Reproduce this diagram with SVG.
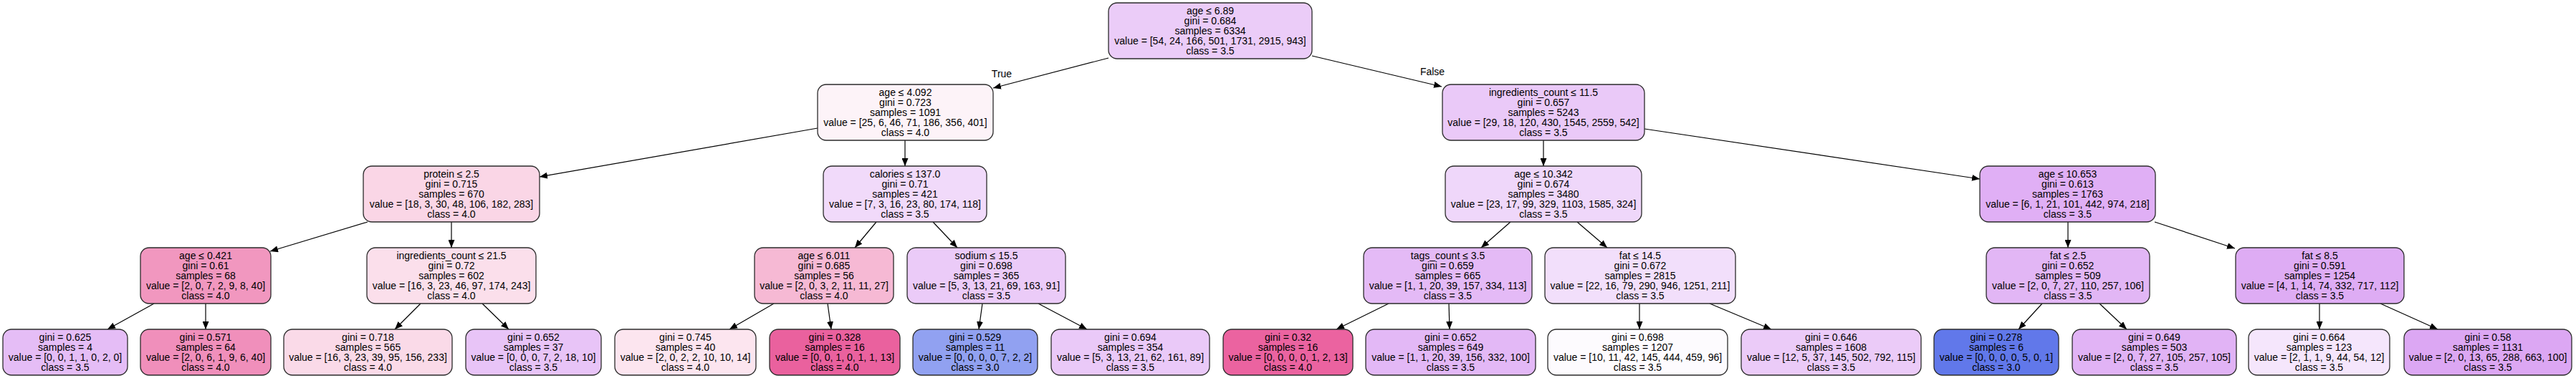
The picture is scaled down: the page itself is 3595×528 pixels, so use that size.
<svg xmlns="http://www.w3.org/2000/svg" width="3595" height="528" viewBox="0 0 3595 528">
<style>
.box{stroke:#2b2b2b;stroke-width:1.3}
text{font-family:"Liberation Sans",Helvetica,Arial,sans-serif;font-size:14px;fill:#000;text-anchor:middle}
.edge{stroke:#000;stroke-width:1.2;fill:none;marker-end:url(#ah)}
</style>
<defs>
<marker id="ah" markerWidth="12" markerHeight="9" refX="11" refY="4.5" orient="auto" markerUnits="userSpaceOnUse"><path d="M0,0 L11,4.5 L0,9 z" fill="#000"/></marker>
</defs>
<rect width="3595" height="528" fill="#fff"/>
<g id="connectors">
<line class="edge" x1="1547" y1="81" x2="1386" y2="123"/>
<line class="edge" x1="1831" y1="78" x2="2012" y2="121"/>
<line class="edge" x1="1141" y1="179" x2="753" y2="247"/>
<line class="edge" x1="1263" y1="196" x2="1263" y2="232"/>
<line class="edge" x1="2154" y1="196" x2="2154" y2="232"/>
<line class="edge" x1="2295" y1="180" x2="2763" y2="250"/>
<line class="edge" x1="513" y1="310" x2="377" y2="351"/>
<line class="edge" x1="630" y1="310" x2="630" y2="346"/>
<line class="edge" x1="1223" y1="310" x2="1193" y2="346"/>
<line class="edge" x1="1302" y1="310" x2="1336" y2="346"/>
<line class="edge" x1="2108" y1="310" x2="2067" y2="346"/>
<line class="edge" x1="2201" y1="310" x2="2243" y2="346"/>
<line class="edge" x1="2886" y1="310" x2="2886" y2="346"/>
<line class="edge" x1="3007" y1="310" x2="3119" y2="347"/>
<line class="edge" x1="215" y1="424" x2="150" y2="460"/>
<line class="edge" x1="287" y1="424" x2="287" y2="460"/>
<line class="edge" x1="587" y1="424" x2="551" y2="460"/>
<line class="edge" x1="673" y1="424" x2="710" y2="460"/>
<line class="edge" x1="1080" y1="424" x2="1018" y2="460"/>
<line class="edge" x1="1155" y1="424" x2="1160" y2="460"/>
<line class="edge" x1="1371" y1="424" x2="1366" y2="460"/>
<line class="edge" x1="1449" y1="424" x2="1517" y2="460"/>
<line class="edge" x1="1938" y1="424" x2="1865" y2="460"/>
<line class="edge" x1="2022" y1="424" x2="2023" y2="460"/>
<line class="edge" x1="2288" y1="424" x2="2288" y2="460"/>
<line class="edge" x1="2386" y1="424" x2="2472" y2="460"/>
<line class="edge" x1="2850" y1="424" x2="2817" y2="460"/>
<line class="edge" x1="2930" y1="424" x2="2968" y2="460"/>
<line class="edge" x1="3237" y1="424" x2="3237" y2="460"/>
<line class="edge" x1="3322" y1="424" x2="3402" y2="460"/>
<text x="1398" y="108">True</text>
<text x="1999" y="105">False</text>
</g>
<g id="n0"><rect class="box" x="1547" y="4" width="284" height="78" rx="12" fill="#ebccf8"/><text x="1689" y="20"><tspan x="1689">age ≤ 6.89</tspan><tspan x="1689" dy="14">gini = 0.684</tspan><tspan x="1689" dy="14">samples = 6334</tspan><tspan x="1689" dy="14">value = [54, 24, 166, 501, 1731, 2915, 943]</tspan><tspan x="1689" dy="14">class = 3.5</tspan></text></g>
<g id="n1"><rect class="box" x="1141" y="118" width="245" height="78" rx="12" fill="#fdf3f8"/><text x="1263.5" y="134"><tspan x="1263.5">age ≤ 4.092</tspan><tspan x="1263.5" dy="14">gini = 0.723</tspan><tspan x="1263.5" dy="14">samples = 1091</tspan><tspan x="1263.5" dy="14">value = [25, 6, 46, 71, 186, 356, 401]</tspan><tspan x="1263.5" dy="14">class = 4.0</tspan></text></g>
<g id="n2"><rect class="box" x="2013" y="118" width="282" height="78" rx="12" fill="#eac9f8"/><text x="2154" y="134"><tspan x="2154">ingredients_count ≤ 11.5</tspan><tspan x="2154" dy="14">gini = 0.657</tspan><tspan x="2154" dy="14">samples = 5243</tspan><tspan x="2154" dy="14">value = [29, 18, 120, 430, 1545, 2559, 542]</tspan><tspan x="2154" dy="14">class = 3.5</tspan></text></g>
<g id="n3"><rect class="box" x="507" y="232" width="246" height="78" rx="12" fill="#fad6e6"/><text x="630" y="248"><tspan x="630">protein ≤ 2.5</tspan><tspan x="630" dy="14">gini = 0.715</tspan><tspan x="630" dy="14">samples = 670</tspan><tspan x="630" dy="14">value = [18, 3, 30, 48, 106, 182, 283]</tspan><tspan x="630" dy="14">class = 4.0</tspan></text></g>
<g id="n4"><rect class="box" x="1149" y="232" width="228" height="78" rx="12" fill="#f1dafa"/><text x="1263" y="248"><tspan x="1263">calories ≤ 137.0</tspan><tspan x="1263" dy="14">gini = 0.71</tspan><tspan x="1263" dy="14">samples = 421</tspan><tspan x="1263" dy="14">value = [7, 3, 16, 23, 80, 174, 118]</tspan><tspan x="1263" dy="14">class = 3.5</tspan></text></g>
<g id="n5"><rect class="box" x="2017" y="232" width="274" height="78" rx="12" fill="#efd7fa"/><text x="2154" y="248"><tspan x="2154">age ≤ 10.342</tspan><tspan x="2154" dy="14">gini = 0.674</tspan><tspan x="2154" dy="14">samples = 3480</tspan><tspan x="2154" dy="14">value = [23, 17, 99, 329, 1103, 1585, 324]</tspan><tspan x="2154" dy="14">class = 3.5</tspan></text></g>
<g id="n6"><rect class="box" x="2763" y="232" width="245" height="78" rx="12" fill="#e0aff5"/><text x="2885.5" y="248"><tspan x="2885.5">age ≤ 10.653</tspan><tspan x="2885.5" dy="14">gini = 0.613</tspan><tspan x="2885.5" dy="14">samples = 1763</tspan><tspan x="2885.5" dy="14">value = [6, 1, 21, 101, 442, 974, 218]</tspan><tspan x="2885.5" dy="14">class = 3.5</tspan></text></g>
<g id="n7"><rect class="box" x="196" y="346" width="182" height="78" rx="12" fill="#f197bf"/><text x="287" y="362"><tspan x="287">age ≤ 0.421</tspan><tspan x="287" dy="14">gini = 0.61</tspan><tspan x="287" dy="14">samples = 68</tspan><tspan x="287" dy="14">value = [2, 0, 7, 2, 9, 8, 40]</tspan><tspan x="287" dy="14">class = 4.0</tspan></text></g>
<g id="n8"><rect class="box" x="512" y="346" width="236" height="78" rx="12" fill="#fbdfeb"/><text x="630" y="362"><tspan x="630">ingredients_count ≤ 21.5</tspan><tspan x="630" dy="14">gini = 0.72</tspan><tspan x="630" dy="14">samples = 602</tspan><tspan x="630" dy="14">value = [16, 3, 23, 46, 97, 174, 243]</tspan><tspan x="630" dy="14">class = 4.0</tspan></text></g>
<g id="n9"><rect class="box" x="1053" y="346" width="194" height="78" rx="12" fill="#f6b9d4"/><text x="1150" y="362"><tspan x="1150">age ≤ 6.011</tspan><tspan x="1150" dy="14">gini = 0.685</tspan><tspan x="1150" dy="14">samples = 56</tspan><tspan x="1150" dy="14">value = [2, 0, 3, 2, 11, 11, 27]</tspan><tspan x="1150" dy="14">class = 4.0</tspan></text></g>
<g id="n10"><rect class="box" x="1266" y="346" width="221" height="78" rx="12" fill="#ebcbf8"/><text x="1376.5" y="362"><tspan x="1376.5">sodium ≤ 15.5</tspan><tspan x="1376.5" dy="14">gini = 0.698</tspan><tspan x="1376.5" dy="14">samples = 365</tspan><tspan x="1376.5" dy="14">value = [5, 3, 13, 21, 69, 163, 91]</tspan><tspan x="1376.5" dy="14">class = 3.5</tspan></text></g>
<g id="n11"><rect class="box" x="1903" y="346" width="235" height="78" rx="12" fill="#e4baf6"/><text x="2020.5" y="362"><tspan x="2020.5">tags_count ≤ 3.5</tspan><tspan x="2020.5" dy="14">gini = 0.659</tspan><tspan x="2020.5" dy="14">samples = 665</tspan><tspan x="2020.5" dy="14">value = [1, 1, 20, 39, 157, 334, 113]</tspan><tspan x="2020.5" dy="14">class = 3.5</tspan></text></g>
<g id="n12"><rect class="box" x="2156" y="346" width="266" height="78" rx="12" fill="#f2dffb"/><text x="2289" y="362"><tspan x="2289">fat ≤ 14.5</tspan><tspan x="2289" dy="14">gini = 0.672</tspan><tspan x="2289" dy="14">samples = 2815</tspan><tspan x="2289" dy="14">value = [22, 16, 79, 290, 946, 1251, 211]</tspan><tspan x="2289" dy="14">class = 3.5</tspan></text></g>
<g id="n13"><rect class="box" x="2772" y="346" width="228" height="78" rx="12" fill="#e2b6f5"/><text x="2886" y="362"><tspan x="2886">fat ≤ 2.5</tspan><tspan x="2886" dy="14">gini = 0.652</tspan><tspan x="2886" dy="14">samples = 509</tspan><tspan x="2886" dy="14">value = [2, 0, 7, 27, 110, 257, 106]</tspan><tspan x="2886" dy="14">class = 3.5</tspan></text></g>
<g id="n14"><rect class="box" x="3120" y="346" width="235" height="78" rx="12" fill="#deacf4"/><text x="3237.5" y="362"><tspan x="3237.5">fat ≤ 8.5</tspan><tspan x="3237.5" dy="14">gini = 0.591</tspan><tspan x="3237.5" dy="14">samples = 1254</tspan><tspan x="3237.5" dy="14">value = [4, 1, 14, 74, 332, 717, 112]</tspan><tspan x="3237.5" dy="14">class = 3.5</tspan></text></g>
<g id="leaf1"><rect class="box" x="4" y="460" width="174" height="64" rx="12" fill="#e5bdf6"/><text x="91" y="476"><tspan x="91">gini = 0.625</tspan><tspan x="91" dy="14">samples = 4</tspan><tspan x="91" dy="14">value = [0, 0, 1, 1, 0, 2, 0]</tspan><tspan x="91" dy="14">class = 3.5</tspan></text></g>
<g id="leaf2"><rect class="box" x="196" y="460" width="182" height="64" rx="12" fill="#f08fbb"/><text x="287" y="476"><tspan x="287">gini = 0.571</tspan><tspan x="287" dy="14">samples = 64</tspan><tspan x="287" dy="14">value = [2, 0, 6, 1, 9, 6, 40]</tspan><tspan x="287" dy="14">class = 4.0</tspan></text></g>
<g id="leaf3"><rect class="box" x="396" y="460" width="235" height="64" rx="12" fill="#fadae8"/><text x="513.5" y="476"><tspan x="513.5">gini = 0.718</tspan><tspan x="513.5" dy="14">samples = 565</tspan><tspan x="513.5" dy="14">value = [16, 3, 23, 39, 95, 156, 233]</tspan><tspan x="513.5" dy="14">class = 4.0</tspan></text></g>
<g id="leaf4"><rect class="box" x="650" y="460" width="189" height="64" rx="12" fill="#e8c4f7"/><text x="744.5" y="476"><tspan x="744.5">gini = 0.652</tspan><tspan x="744.5" dy="14">samples = 37</tspan><tspan x="744.5" dy="14">value = [0, 0, 0, 7, 2, 18, 10]</tspan><tspan x="744.5" dy="14">class = 3.5</tspan></text></g>
<g id="leaf5"><rect class="box" x="858" y="460" width="197" height="64" rx="12" fill="#fce5ef"/><text x="956.5" y="476"><tspan x="956.5">gini = 0.745</tspan><tspan x="956.5" dy="14">samples = 40</tspan><tspan x="956.5" dy="14">value = [2, 0, 2, 2, 10, 10, 14]</tspan><tspan x="956.5" dy="14">class = 4.0</tspan></text></g>
<g id="leaf6"><rect class="box" x="1074" y="460" width="182" height="64" rx="12" fill="#ea619e"/><text x="1165" y="476"><tspan x="1165">gini = 0.328</tspan><tspan x="1165" dy="14">samples = 16</tspan><tspan x="1165" dy="14">value = [0, 0, 1, 0, 1, 1, 13]</tspan><tspan x="1165" dy="14">class = 4.0</tspan></text></g>
<g id="leaf7"><rect class="box" x="1274" y="460" width="174" height="64" rx="12" fill="#91a1f1"/><text x="1361" y="476"><tspan x="1361">gini = 0.529</tspan><tspan x="1361" dy="14">samples = 11</tspan><tspan x="1361" dy="14">value = [0, 0, 0, 0, 7, 2, 2]</tspan><tspan x="1361" dy="14">class = 3.0</tspan></text></g>
<g id="leaf8"><rect class="box" x="1467" y="460" width="221" height="64" rx="12" fill="#eac9f8"/><text x="1577.5" y="476"><tspan x="1577.5">gini = 0.694</tspan><tspan x="1577.5" dy="14">samples = 354</tspan><tspan x="1577.5" dy="14">value = [5, 3, 13, 21, 62, 161, 89]</tspan><tspan x="1577.5" dy="14">class = 3.5</tspan></text></g>
<g id="leaf9"><rect class="box" x="1707" y="460" width="181" height="64" rx="12" fill="#eb63a0"/><text x="1797.5" y="476"><tspan x="1797.5">gini = 0.32</tspan><tspan x="1797.5" dy="14">samples = 16</tspan><tspan x="1797.5" dy="14">value = [0, 0, 0, 0, 1, 2, 13]</tspan><tspan x="1797.5" dy="14">class = 4.0</tspan></text></g>
<g id="leaf10"><rect class="box" x="1906" y="460" width="237" height="64" rx="12" fill="#e3b8f6"/><text x="2024.5" y="476"><tspan x="2024.5">gini = 0.652</tspan><tspan x="2024.5" dy="14">samples = 649</tspan><tspan x="2024.5" dy="14">value = [1, 1, 20, 39, 156, 332, 100]</tspan><tspan x="2024.5" dy="14">class = 3.5</tspan></text></g>
<g id="leaf11"><rect class="box" x="2160" y="460" width="251" height="64" rx="12" fill="#fdfbfe"/><text x="2285.5" y="476"><tspan x="2285.5">gini = 0.698</tspan><tspan x="2285.5" dy="14">samples = 1207</tspan><tspan x="2285.5" dy="14">value = [10, 11, 42, 145, 444, 459, 96]</tspan><tspan x="2285.5" dy="14">class = 3.5</tspan></text></g>
<g id="leaf12"><rect class="box" x="2430" y="460" width="251" height="64" rx="12" fill="#ebcbf8"/><text x="2555.5" y="476"><tspan x="2555.5">gini = 0.646</tspan><tspan x="2555.5" dy="14">samples = 1608</tspan><tspan x="2555.5" dy="14">value = [12, 5, 37, 145, 502, 792, 115]</tspan><tspan x="2555.5" dy="14">class = 3.5</tspan></text></g>
<g id="leaf13"><rect class="box" x="2699" y="460" width="174" height="64" rx="12" fill="#6178ea"/><text x="2786" y="476"><tspan x="2786">gini = 0.278</tspan><tspan x="2786" dy="14">samples = 6</tspan><tspan x="2786" dy="14">value = [0, 0, 0, 0, 5, 0, 1]</tspan><tspan x="2786" dy="14">class = 3.0</tspan></text></g>
<g id="leaf14"><rect class="box" x="2892" y="460" width="229" height="64" rx="12" fill="#e1b3f5"/><text x="3006.5" y="476"><tspan x="3006.5">gini = 0.649</tspan><tspan x="3006.5" dy="14">samples = 503</tspan><tspan x="3006.5" dy="14">value = [2, 0, 7, 27, 105, 257, 105]</tspan><tspan x="3006.5" dy="14">class = 3.5</tspan></text></g>
<g id="leaf15"><rect class="box" x="3138" y="460" width="197" height="64" rx="12" fill="#f5e6fc"/><text x="3236.5" y="476"><tspan x="3236.5">gini = 0.664</tspan><tspan x="3236.5" dy="14">samples = 123</tspan><tspan x="3236.5" dy="14">value = [2, 1, 1, 9, 44, 54, 12]</tspan><tspan x="3236.5" dy="14">class = 3.5</tspan></text></g>
<g id="leaf16"><rect class="box" x="3355" y="460" width="234" height="64" rx="12" fill="#dca7f3"/><text x="3472" y="476"><tspan x="3472">gini = 0.58</tspan><tspan x="3472" dy="14">samples = 1131</tspan><tspan x="3472" dy="14">value = [2, 0, 13, 65, 288, 663, 100]</tspan><tspan x="3472" dy="14">class = 3.5</tspan></text></g>
</svg>
